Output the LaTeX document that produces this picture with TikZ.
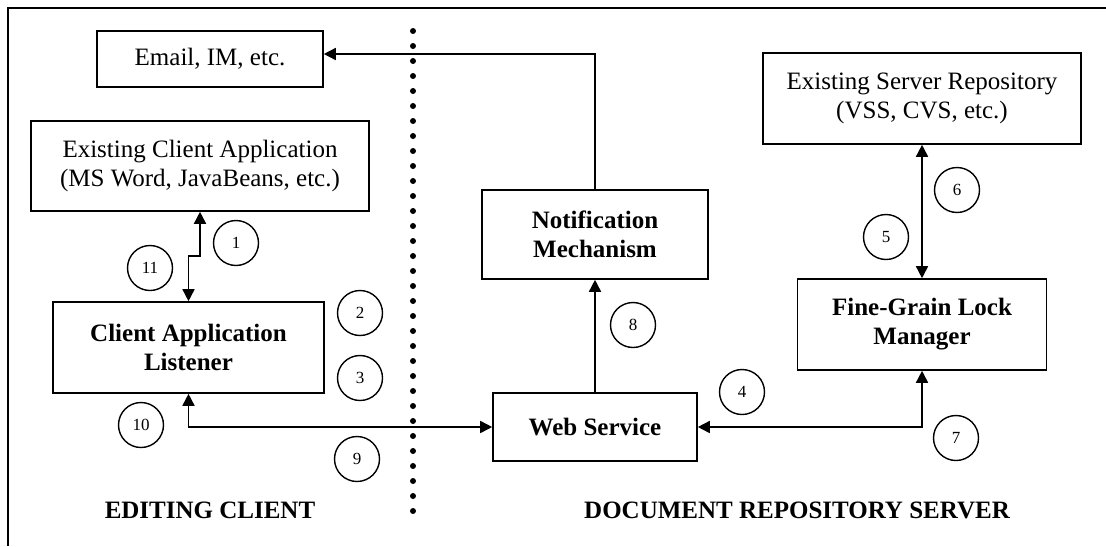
\documentclass[tikz,border=0pt]{standalone}
\usepackage{fontspec}
\setmainfont{Liberation Serif}
\usetikzlibrary{arrows.meta}
\tikzstyle{box} = [draw, line width=0.8pt, align=center, inner sep=2pt, font=\fontsize{12.5}{14.5}\selectfont]
\tikzstyle{bbox} = [box, font=\fontsize{12.5}{14.5}\selectfont\bfseries]
\tikzstyle{num} = [draw, circle, line width=0.7pt, minimum size=22.5pt, inner sep=0pt, font=\fontsize{8.5}{10}\selectfont]
\tikzstyle{link} = [line width=0.8pt]
\tikzstyle{side} = [font=\fontsize{12.5}{14.5}\selectfont\bfseries]

\begin{document}
\begin{tikzpicture}[x=0.5pt, y=-0.5pt, >={Triangle[length=6pt,width=6pt]}]
	\useasboundingbox (0,0) rectangle (1106,546);
	% frame and client/server divider
	\draw [line width=1pt] (8,546) -- (8,8) -- (1106,8);
	\coordinate (divtop) at (413,31);
	\coordinate (divbot) at (413,513);
	\draw [line width=3pt, line cap=round, dash pattern=on 0pt off 7.5pt] (divtop) -- (divbot);

	% client side
	\node [box, minimum width=113pt, minimum height=28pt] (email) at (210,59) {Email, IM, etc.};
	\node [box, minimum width=169pt, minimum height=45pt] (clientapp) at (200,166) {Existing Client Application\\(MS Word, JavaBeans, etc.)};
	\node [bbox, minimum width=135.5pt, minimum height=45.5pt] (listener) at (188.5,347.5) {Client Application\\Listener};

	% server side
	\node [bbox, minimum width=113pt, minimum height=44.5pt] (notify) at (595,234.5) {Notification\\Mechanism};
	\node [bbox, minimum width=102pt, minimum height=34pt] (websvc) at (595,427) {Web Service};
	\node [box, minimum width=159pt, minimum height=45.5pt] (repo) at (922,98.5) {Existing Server Repository\\(VSS, CVS, etc.)};
	\node [bbox, minimum width=124.5pt, minimum height=45.5pt] (lockmgr) at (922,324.5) {Fine-Grain Lock\\Manager};

	% connectors
	\draw [link,<->] (listener.north) -- ++(0,-45) -| (clientapp.south);
	\draw [link,<->] (listener.south) |- (websvc.west);
	\draw [link,->] (websvc) -- (notify);
	\draw [link,->] (notify.north) |- ([yshift=2.5pt]email.east);
	\draw [link,<->] (lockmgr.north) -- (repo.south);
	\draw [link,<->] (lockmgr.south) |- (websvc.east);

	% step numbers
	\node [num] (n1) at (236,243) {1};
	\node [num] (n2) at (360,313) {2};
	\node [num] (n3) at (360,378) {3};
	\node [num] (n4) at (742,392) {4};
	\node [num] (n5) at (886,237) {5};
	\node [num] (n6) at (957,190) {6};
	\node [num] (n7) at (956,438) {7};
	\node [num] (n8) at (633,325) {8};
	\node [num] (n9) at (357,459) {9};
	\node [num] (n10) at (141,425) {10};
	\node [num] (n11) at (150,268) {11};

	\node [side] (clientlbl) at (210,510) {EDITING CLIENT};
	\node [side] (serverlbl) at (797,510) {DOCUMENT REPOSITORY SERVER};
\end{tikzpicture}
\end{document}
